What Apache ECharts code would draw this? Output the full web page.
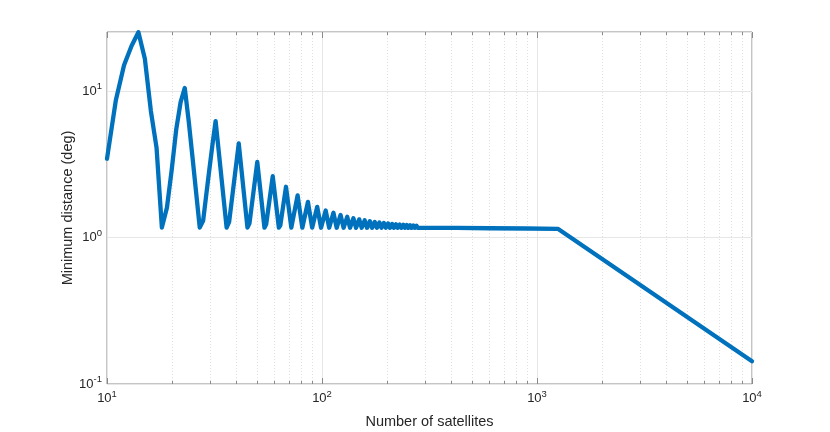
<!DOCTYPE html>
<html>
<head>
<meta charset="utf-8">
<script src="https://cdn.jsdelivr.net/npm/echarts@6/dist/echarts.min.js"></script>
<style>
  html, body { margin: 0; padding: 0; background: #fff; }
  #chart { width: 830px; height: 432px; }
</style>
</head>
<body>
<div id="chart"></div>
<script>
// number of satellites vs. minimum angular distance
var rampN    = [10, 11, 12, 13, 14, 15, 16, 17, 18, 19, 20, 21, 22, 23, 24, 25, 26, 27, 28, 29, 30, 31];
var rampDist = [3.45, 8.7, 15.0, 20.3, 25.2, 16.6, 7.3, 4.1, 1.17, 1.6, 2.9, 5.5, 8.4, 10.5, 6.2, 3.5, 2.0, 1.17, 1.3, 2.0, 3.0, 4.4];

var peakN    = [32, 41, 50, 59, 68, 77, 86, 95, 104, 113, 122, 131, 140, 149, 158, 167, 176, 185,
                194, 203, 212, 221, 230, 239, 248, 257, 266, 275, 284, 293, 302, 311, 320, 329, 338, 347];
var peakDist = [6.24, 4.39, 3.28, 2.62, 2.22, 1.94, 1.75, 1.62, 1.53, 1.475, 1.425, 1.385, 1.355, 1.33, 1.31, 1.293, 1.279, 1.267,
                1.256, 1.247, 1.239, 1.232, 1.226, 1.221, 1.216, 1.211, 1.207, 1.203, 1.199, 1.196, 1.193, 1.19, 1.187, 1.185, 1.183, 1.181];

var troughN    = [36, 45, 54, 63, 72, 81, 90, 99, 108, 117, 126, 135, 144, 153, 162, 171, 180, 189,
                  198, 207, 216, 225, 234, 243, 252, 261, 270, 279, 288, 297, 306, 315, 324, 333, 342, 351];
var troughDist = [1.168, 1.168, 1.168, 1.167, 1.167, 1.167, 1.167, 1.166, 1.166, 1.166, 1.166, 1.166, 1.165, 1.165, 1.165, 1.165, 1.165, 1.165,
                  1.165, 1.164, 1.164, 1.164, 1.164, 1.164, 1.164, 1.164, 1.164, 1.164, 1.163, 1.163, 1.163, 1.163, 1.163, 1.163, 1.163, 1.163];

var riseN    = [37, 46, 55, 64];
var riseDist = [1.28, 1.25, 1.23, 1.21];

var tailN    = [420, 600, 900, 1250, 10000];
var tailDist = [1.162, 1.157, 1.152, 1.147, 0.143];

// minor grid positions (MATLAB style 2..9 per decade)
var xMinor = [20, 30, 40, 50, 60, 70, 80, 90, 200, 300, 400, 500, 600, 700, 800, 900,
              2000, 3000, 4000, 5000, 6000, 7000, 8000, 9000];
var yMinor = [0.2, 0.3, 0.4, 0.5, 0.6, 0.7, 0.8, 0.9, 2, 3, 4, 5, 6, 7, 8, 9, 20];
var xMajor = [10, 100, 1000, 10000];
var yMajor = [0.1, 1, 10];

var pts = [];
function addPts(ns, ds) {
  for (var i = 0; i < ns.length; i++) pts.push([ns[i], ds[i]]);
}
addPts(rampN, rampDist);
addPts(peakN, peakDist);
addPts(troughN, troughDist);
addPts(riseN, riseDist);
addPts(tailN, tailDist);
pts.sort(function (a, b) { return a[0] - b[0]; });

var axisGray = '#8a8a8a';
var textCol = '#262626';
var font = "'Liberation Sans', Arial, sans-serif";

function powLabel(v) {
  var e = Math.round(Math.log10(v));
  if (Math.abs(Math.log10(v) - e) > 1e-6) return '';
  return '{b|10}{s|' + e + '}';
}
var richPow = {
  b: { fontSize: 13, lineHeight: 13, verticalAlign: 'bottom', color: textCol, fontFamily: font },
  s: { fontSize: 9.5, lineHeight: 10, padding: [0, 0, 9, 0], color: textCol, fontFamily: font }
};

function tickItem(isX, len, minor) {
  return function (params, api) {
    var cs = params.coordSys;
    var v = api.value(0);
    var kids = [];
    if (isX) {
      var px = Math.round(api.coord([v, 1])[0]) + 0.5;
      if (minor) kids.push({ type: 'line', shape: { x1: px, y1: cs.y, x2: px, y2: cs.y + cs.height },
        style: { stroke: '#e0e0e0', lineWidth: 1, lineDash: [1, 2] } });
      kids.push({ type: 'line', shape: { x1: px, y1: cs.y + cs.height, x2: px, y2: cs.y + cs.height - len },
        style: { stroke: axisGray, lineWidth: 1 } });
      kids.push({ type: 'line', shape: { x1: px, y1: cs.y, x2: px, y2: cs.y + len },
        style: { stroke: axisGray, lineWidth: 1 } });
    } else {
      var py = Math.round(api.coord([100, v])[1]) + 0.5;
      if (minor) kids.push({ type: 'line', shape: { x1: cs.x, y1: py, x2: cs.x + cs.width, y2: py },
        style: { stroke: '#e0e0e0', lineWidth: 1, lineDash: [1, 2] } });
      kids.push({ type: 'line', shape: { x1: cs.x, y1: py, x2: cs.x + len, y2: py },
        style: { stroke: axisGray, lineWidth: 1 } });
      kids.push({ type: 'line', shape: { x1: cs.x + cs.width, y1: py, x2: cs.x + cs.width - len, y2: py },
        style: { stroke: axisGray, lineWidth: 1 } });
    }
    return { type: 'group', children: kids };
  };
}

var myChart = echarts.init(document.getElementById('chart'));
var option = {
  animation: false,
  grid: { left: 107, right: 78, top: 32, bottom: 48, outerBoundsMode: 'none',
          show: true, borderColor: axisGray, borderWidth: 1, backgroundColor: 'transparent' },
  xAxis: {
    type: 'log', min: 10, max: 10000,
    name: 'Number of satellites', nameLocation: 'middle', nameGap: 30, nameMoveOverlap: false,
    nameTextStyle: { fontSize: 14.5, color: textCol, fontFamily: font },
    axisLine: { show: false },
    axisTick: { show: false },
    axisLabel: { margin: 8, formatter: powLabel, rich: richPow },
    splitLine: { show: true, lineStyle: { color: '#e6e6e6', width: 1 } }
  },
  yAxis: {
    type: 'log', min: 0.1, max: 25.3,
    name: 'Minimum distance (deg)', nameLocation: 'middle', nameGap: 32, nameMoveOverlap: false,
    nameTextStyle: { fontSize: 14.5, color: textCol, fontFamily: font },
    axisLine: { show: false },
    axisTick: { show: false },
    axisLabel: { margin: 5, formatter: powLabel, rich: richPow },
    splitLine: { show: true, lineStyle: { color: '#e6e6e6', width: 1 } }
  },
  series: [
    { type: 'custom', silent: true, z: 1, clip: false, renderItem: tickItem(true, 3, true),
      data: xMinor.map(function (v) { return [v, 1]; }) },
    { type: 'custom', silent: true, z: 1, clip: false, renderItem: tickItem(false, 3, true),
      data: yMinor.map(function (v) { return [100, v]; }) },
    { type: 'custom', silent: true, z: 1, clip: false, renderItem: tickItem(true, 6, false),
      data: xMajor.map(function (v) { return [v, 1]; }) },
    { type: 'custom', silent: true, z: 1, clip: false, renderItem: tickItem(false, 6, false),
      data: yMajor.map(function (v) { return [100, v]; }) },
    {
      name: 'min distance', type: 'line', z: 5, data: pts,
      showSymbol: false, symbol: 'none', clip: true,
      lineStyle: { color: '#0072BD', width: 4.3, join: 'round', cap: 'round' }
    }
  ]
};
myChart.setOption(option);
</script>
</body>
</html>
